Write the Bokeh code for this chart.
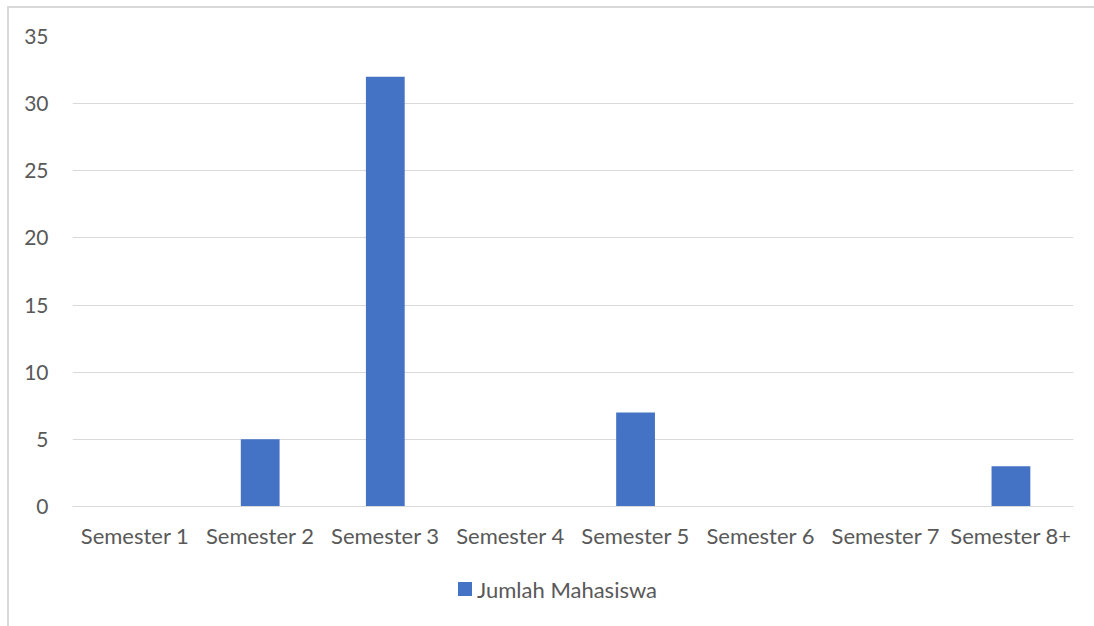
from bokeh.plotting import figure
from bokeh.models import ColumnDataSource, FactorRange, SingleIntervalTicker, Div, Column
from bokeh.embed import file_html
from bokeh.resources import INLINE

categories = ["Semester 1", "Semester 2", "Semester 3", "Semester 4",
              "Semester 5", "Semester 6", "Semester 7", "Semester 8+"]
jumlah = [0, 5, 32, 0, 7, 0, 0, 3]
series_name = "Jumlah Mahasiswa"

FONT = "Lato"
TXT = "#595959"
GRID = "#d9d9d9"
BAR = "#4472C4"

p = figure(x_range=FactorRange(*categories, range_padding=0), y_range=(0, 35),
           width=1085, height=560, output_backend="svg", toolbar_location=None,
           min_border_left=63, min_border_right=21, min_border_top=28, min_border_bottom=62,
           background_fill_color="white", border_fill_color="white")
p.outline_line_color = None

src = ColumnDataSource(dict(x=categories, y=jumlah))
r = p.vbar(x="x", top="y", width=0.31, source=src, color=BAR, line_color=None)

p.yaxis.ticker = SingleIntervalTicker(interval=5)
p.yaxis.axis_line_color = None
p.yaxis.major_tick_line_color = None
p.yaxis.minor_tick_line_color = None
p.yaxis.major_label_text_font = FONT
p.yaxis.major_label_text_font_size = "21px"
p.yaxis.major_label_text_color = TXT
p.yaxis.major_label_standoff = 18

p.xaxis.axis_line_color = GRID
p.xaxis.major_tick_line_color = None
p.xaxis.minor_tick_line_color = None
p.xaxis.major_label_text_font = FONT
p.xaxis.major_label_text_font_size = "22px"
p.xaxis.major_label_text_color = TXT
p.xaxis.major_label_standoff = 9

p.xgrid.grid_line_color = None
p.ygrid.grid_line_color = GRID
p.ygrid.grid_line_width = 1

legend_html = (
    f'<div style="padding-left:449px;padding-top:9px;height:49px;'
    f'font-family:{FONT};font-size:22px;line-height:22px;color:{TXT};white-space:nowrap;">'
    f'<span style="display:inline-block;width:14px;height:14px;background:{BAR};'
    f'vertical-align:middle;margin-right:5px;position:relative;top:-1px;"></span>'
    f'<span style="vertical-align:middle;">{series_name}</span></div>'
)
leg = Div(text=legend_html, width=1085, height=58, margin=0)

layout = Column(p, leg, margin=(6, 0, 0, 7), spacing=0,
                styles={"border-left": "2px solid #d9d9d9", "border-top": "2px solid #d9d9d9"})

open("out.html", "w").write(file_html(layout, INLINE))
